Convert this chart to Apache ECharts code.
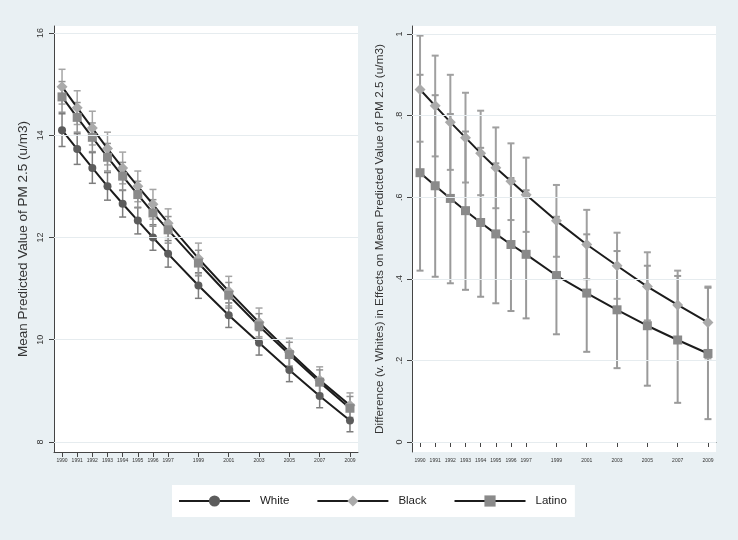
<!DOCTYPE html>
<html>
<head>
<meta charset="utf-8">
<script src="https://cdn.jsdelivr.net/npm/echarts@6/dist/echarts.min.js"></script>
<style>html,body{margin:0;padding:0;background:#e9f0f3;}#c{width:738px;height:540px;}</style>
</head>
<body>
<div id="c"></div>
<script>
const years = [1990,1991,1992,1993,1994,1995,1996,1997,1999,2001,2003,2005,2007,2009];
const yearTicks = [1990,1991,1992,1993,1994,1995,1996,1997,1999,2001,2003,2005,2007,2009];
const leftTicks = [8,10,12,14,16];
const rightTicks = [0,0.2,0.4,0.6,0.8,1];

const white   = [14.10,13.73,13.36,13.00,12.66,12.33,12.00,11.68,11.06,10.48,9.94,9.41,8.90,8.42];
const whiteLo = [13.78,13.43,13.06,12.73,12.40,12.07,11.75,11.42,10.81,10.24,9.70,9.18,8.67,8.20];
const whiteHi = [14.42,14.03,13.66,13.27,12.92,12.59,12.25,11.94,11.31,10.72,10.18,9.64,9.13,8.64];

const black   = [14.95,14.54,14.14,13.74,13.36,13.00,12.65,12.28,11.59,10.95,10.34,9.76,9.21,8.72];
const blackLo = [14.61,14.21,13.81,13.42,13.05,12.70,12.36,12.00,11.29,10.66,10.06,9.49,8.95,8.48];
const blackHi = [15.29,14.87,14.47,14.06,13.67,13.30,12.94,12.56,11.89,11.24,10.62,10.03,9.47,8.96];

const latino   = [14.75,14.35,13.96,13.57,13.20,12.84,12.48,12.15,11.50,10.87,10.27,9.71,9.17,8.66];
const latinoLo = [14.45,14.06,13.68,13.30,12.93,12.58,12.22,11.89,11.25,10.62,10.03,9.47,8.93,8.43];
const latinoHi = [15.05,14.64,14.24,13.84,13.47,13.10,12.74,12.41,11.75,11.12,10.51,9.95,9.41,8.89];

const diffBlack   = [0.864,0.824,0.784,0.746,0.708,0.672,0.639,0.606,0.542,0.484,0.432,0.381,0.336,0.293];
const diffBlackLo = [0.736,0.700,0.667,0.636,0.605,0.573,0.544,0.515,0.454,0.399,0.351,0.298,0.252,0.205];
const diffBlackHi = [0.996,0.947,0.900,0.856,0.812,0.771,0.732,0.697,0.630,0.569,0.513,0.465,0.420,0.381];

const diffLatino   = [0.660,0.628,0.597,0.567,0.538,0.510,0.484,0.460,0.408,0.365,0.324,0.285,0.250,0.217];
const diffLatinoLo = [0.420,0.405,0.389,0.373,0.356,0.340,0.321,0.303,0.264,0.221,0.181,0.138,0.096,0.056];
const diffLatinoHi = [0.900,0.850,0.804,0.761,0.721,0.683,0.647,0.617,0.552,0.509,0.468,0.432,0.407,0.378];

const pts = (ys) => years.map((x, i) => [x, ys[i]]);
const bars = (lo, hi) => years.map((x, i) => [x, lo[i], hi[i]]);

function errBar(name, idx, lo, hi, color, width, cap) {
  return {
    type: 'custom', name: name, xAxisIndex: idx, yAxisIndex: idx, z: 1, silent: true,
    data: bars(lo, hi), encode: { x: 0, y: [1, 2] },
    renderItem: function (params, api) {
      const x = api.value(0);
      const p1 = api.coord([x, api.value(1)]);
      const p2 = api.coord([x, api.value(2)]);
      const st = { stroke: color, lineWidth: width };
      return { type: 'group', children: [
        { type: 'line', shape: { x1: p1[0], y1: p1[1], x2: p2[0], y2: p2[1] }, style: st },
        { type: 'line', shape: { x1: p1[0] - cap, y1: p1[1], x2: p1[0] + cap, y2: p1[1] }, style: st },
        { type: 'line', shape: { x1: p2[0] - cap, y1: p2[1], x2: p2[0] + cap, y2: p2[1] }, style: st }
      ]};
    }
  };
}

function lineS(name, idx, ys, symbol, size, color) {
  return {
    type: 'line', name: name, xAxisIndex: idx, yAxisIndex: idx, z: 3,
    data: pts(ys), symbol: symbol, symbolSize: size, showSymbol: true,
    lineStyle: { color: '#1c1c1c', width: 2 },
    itemStyle: { color: color, borderWidth: 0 },
    emphasis: { disabled: true }, animation: false
  };
}

function gridLines(idx, ticks) {
  return {
    type: 'line', name: '_grid' + idx, xAxisIndex: idx, yAxisIndex: idx, data: [], z: 0,
    markLine: {
      silent: true, symbol: 'none', animation: false,
      label: { show: false },
      lineStyle: { color: '#e6ecef', width: 1, type: 'solid' },
      data: ticks.map(v => ({ yAxis: v }))
    }
  };
}

const axisLbl = { color: '#333', fontFamily: 'Liberation Sans, Arial, sans-serif' };

const xAxisCommon = {
  type: 'value', min: 1989.47, max: 2009.53,
  axisLine: { show: true, lineStyle: { color: '#444', width: 1 } },
  axisTick: { show: true, inside: false, length: 5, lineStyle: { color: '#444' }, customValues: yearTicks },
  axisLabel: { ...axisLbl, fontSize: 5, margin: 6, customValues: yearTicks, formatter: v => String(v) },
  splitLine: { show: false }
};

const option = {
  backgroundColor: '#e9f0f3',
  animation: false,
  graphic: [
    { type: 'rect', shape: { x: 54, y: 26, width: 304, height: 426 }, style: { fill: '#ffffff' }, z: -10, silent: true },
    { type: 'rect', shape: { x: 412, y: 26, width: 304, height: 426 }, style: { fill: '#ffffff' }, z: -10, silent: true }
  ],
  grid: [
    { left: 54, top: 26, width: 304, height: 426 },
    { left: 412, top: 26, width: 304, height: 426 }
  ],
  xAxis: [
    { ...xAxisCommon, gridIndex: 0 },
    { ...xAxisCommon, gridIndex: 1 }
  ],
  yAxis: [
    {
      type: 'value', gridIndex: 0, min: 7.804, max: 16.137,
      name: 'Mean Predicted Value of PM 2.5 (u/m3)', nameLocation: 'middle', nameGap: 24, nameRotate: 90,
      nameTextStyle: { ...axisLbl, fontSize: 13.5 },
      axisLine: { show: true, lineStyle: { color: '#444', width: 1 } },
      axisTick: { show: true, length: 5, lineStyle: { color: '#444' }, customValues: leftTicks },
      axisLabel: { ...axisLbl, fontSize: 9, rotate: 90, margin: 9, customValues: leftTicks },
      splitLine: { show: false }
    },
    {
      type: 'value', gridIndex: 1, min: -0.0245, max: 1.0196,
      name: 'Difference (v. Whites) in Effects on Mean Predicted Value of PM 2.5 (u/m3)', nameLocation: 'middle', nameGap: 26, nameRotate: 90,
      nameTextStyle: { ...axisLbl, fontSize: 11.8 },
      axisLine: { show: true, lineStyle: { color: '#444', width: 1 } },
      axisTick: { show: true, length: 5, lineStyle: { color: '#444' }, customValues: rightTicks },
      axisLabel: { ...axisLbl, fontSize: 9, rotate: 90, margin: 8, customValues: rightTicks,
        formatter: v => (Math.abs(v) < 1e-9 ? '0' : (Math.abs(v - 1) < 1e-9 ? '1' : String(Math.round(v * 10) / 10).replace(/^0/, ''))) },
      splitLine: { show: false }
    }
  ],
  legend: {
    data: ['White', 'Black', 'Latino'],
    left: 172, top: 485, width: 398,
    backgroundColor: '#ffffff', borderWidth: 0,
    padding: [10, 8, 10, 6],
    itemWidth: 71, itemHeight: 14, itemGap: 27,
    selectedMode: false,
    textStyle: { color: '#222', fontSize: 11.5, fontFamily: 'Liberation Sans, Arial, sans-serif', padding: [0, 0, 0, 5] }
  },
  series: [
    gridLines(0, leftTicks),
    gridLines(1, rightTicks),
    errBar('eW', 0, whiteLo, whiteHi, '#7d7d7d', 1.5, 3.5),
    errBar('eB', 0, blackLo, blackHi, '#a5a5a5', 1.5, 3.5),
    errBar('eL', 0, latinoLo, latinoHi, '#929292', 1.5, 3.5),
    lineS('White', 0, white, 'circle', 8, '#5c5c5c'),
    lineS('Black', 0, black, 'diamond', 11, '#aaaaaa'),
    lineS('Latino', 0, latino, 'rect', 9, '#8a8a8a'),
    errBar('eB2', 1, diffBlackLo, diffBlackHi, '#a0a0a0', 2, 3.5),
    errBar('eL2', 1, diffLatinoLo, diffLatinoHi, '#9a9a9a', 2, 3.5),
    lineS('Black', 1, diffBlack, 'diamond', 11, '#aaaaaa'),
    lineS('Latino', 1, diffLatino, 'rect', 9, '#8a8a8a')
  ]
};

const chart = echarts.init(document.getElementById('c'), null, { renderer: 'canvas' });
chart.setOption(option);
</script>
</body>
</html>
